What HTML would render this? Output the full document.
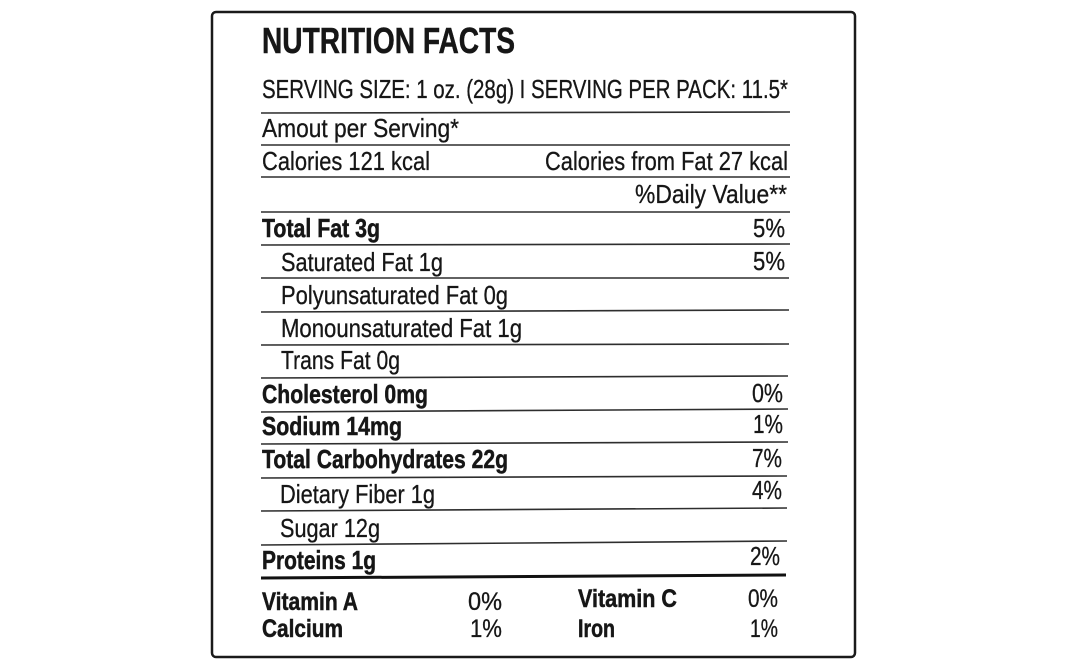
<!DOCTYPE html>
<html>
<head>
<meta charset="utf-8">
<style>
  html, body { margin: 0; padding: 0; background: #fff; }
  svg { display: block; }
  text { font-family: "Liberation Sans", Arial, sans-serif; fill: #161616; stroke: #161616; stroke-width: 0.3; }
  .b { font-weight: bold; stroke: #161616; stroke-width: 0.5; }
</style>
</head>
<body>
<svg width="1068" height="671" viewBox="0 0 1068 671" xmlns="http://www.w3.org/2000/svg">
  <rect x="0" y="0" width="1068" height="671" fill="#fff"/>
  <!-- outer box -->
  <rect x="212" y="12" width="643" height="645" rx="4" ry="4" fill="none" stroke="#1a1a1a" stroke-width="2.5"/>

  <!-- rules -->
  <g stroke="#2e2e2e" stroke-width="1.6">
    <line x1="261" y1="113" x2="790" y2="112"/>
    <line x1="261" y1="145" x2="790" y2="145"/>
    <line x1="261" y1="177" x2="790" y2="177"/>
    <line x1="261" y1="212" x2="790" y2="212"/>
    <line x1="261" y1="245" x2="790" y2="244"/>
    <line x1="261" y1="278" x2="789" y2="278"/>
    <line x1="261" y1="312" x2="789" y2="310"/>
    <line x1="261" y1="345" x2="789" y2="344"/>
    <line x1="261" y1="378" x2="788" y2="376"/>
    <line x1="261" y1="412" x2="788" y2="409"/>
    <line x1="261" y1="444" x2="788" y2="442"/>
    <line x1="261" y1="478" x2="787" y2="476"/>
    <line x1="261" y1="511" x2="787" y2="508"/>
    <line x1="261" y1="545" x2="787" y2="541"/>
  </g>
  <line x1="261" y1="578" x2="786" y2="575" stroke="#111" stroke-width="3"/>

  <!-- title -->
  <text class="b" x="262" y="53" font-size="36" textLength="253" lengthAdjust="spacingAndGlyphs">NUTRITION FACTS</text>
  <text x="262" y="98" font-size="26" textLength="526" lengthAdjust="spacingAndGlyphs">SERVING SIZE: 1 oz. (28g) I SERVING PER PACK: 11.5*</text>
  <text x="262" y="137" font-size="26" textLength="197" lengthAdjust="spacingAndGlyphs">Amout per Serving*</text>
  <text x="262" y="170" font-size="26" textLength="168" lengthAdjust="spacingAndGlyphs">Calories 121 kcal</text>
  <text x="545" y="170" font-size="26" textLength="243" lengthAdjust="spacingAndGlyphs">Calories from Fat 27 kcal</text>
  <text x="635" y="203" font-size="26" textLength="152" lengthAdjust="spacingAndGlyphs">%Daily Value**</text>

  <!-- nutrients -->
  <text class="b" x="262" y="237" font-size="26" textLength="118" lengthAdjust="spacingAndGlyphs">Total Fat 3g</text>
  <text x="753" y="237" font-size="26" textLength="32" lengthAdjust="spacingAndGlyphs">5%</text>

  <text x="281" y="271" font-size="26" textLength="162" lengthAdjust="spacingAndGlyphs">Saturated Fat 1g</text>
  <text x="753" y="270" font-size="26" textLength="32" lengthAdjust="spacingAndGlyphs">5%</text>

  <text x="281" y="304" font-size="26" textLength="227" lengthAdjust="spacingAndGlyphs">Polyunsaturated Fat 0g</text>
  <text x="281" y="337" font-size="26" textLength="241" lengthAdjust="spacingAndGlyphs">Monounsaturated Fat 1g</text>
  <text x="281" y="369" font-size="26" textLength="119" lengthAdjust="spacingAndGlyphs">Trans Fat 0g</text>

  <text class="b" x="262" y="403" font-size="26" textLength="166" lengthAdjust="spacingAndGlyphs">Cholesterol 0mg</text>
  <text x="752" y="402" font-size="26" textLength="31" lengthAdjust="spacingAndGlyphs">0%</text>

  <text class="b" x="262" y="435" font-size="26" textLength="140" lengthAdjust="spacingAndGlyphs">Sodium 14mg</text>
  <text x="753" y="433" font-size="26" textLength="30" lengthAdjust="spacingAndGlyphs">1%</text>

  <text class="b" x="262" y="468" font-size="26" textLength="246" lengthAdjust="spacingAndGlyphs">Total Carbohydrates 22g</text>
  <text x="752" y="467" font-size="26" textLength="30" lengthAdjust="spacingAndGlyphs">7%</text>

  <text x="280" y="503" font-size="26" textLength="155" lengthAdjust="spacingAndGlyphs">Dietary Fiber 1g</text>
  <text x="752" y="499" font-size="26" textLength="30" lengthAdjust="spacingAndGlyphs">4%</text>

  <text x="280" y="537" font-size="26" textLength="100" lengthAdjust="spacingAndGlyphs">Sugar 12g</text>

  <text class="b" x="262" y="569" font-size="26" textLength="114" lengthAdjust="spacingAndGlyphs">Proteins 1g</text>
  <text x="750" y="565" font-size="26" textLength="30" lengthAdjust="spacingAndGlyphs">2%</text>

  <!-- vitamins -->
  <text class="b" x="262" y="610" font-size="25" textLength="96" lengthAdjust="spacingAndGlyphs">Vitamin A</text>
  <text x="468" y="610" font-size="25" textLength="34" lengthAdjust="spacingAndGlyphs">0%</text>
  <text class="b" x="262" y="637" font-size="25" textLength="81" lengthAdjust="spacingAndGlyphs">Calcium</text>
  <text x="470" y="637" font-size="25" textLength="32" lengthAdjust="spacingAndGlyphs">1%</text>

  <text class="b" x="578" y="607" font-size="25" textLength="99" lengthAdjust="spacingAndGlyphs">Vitamin C</text>
  <text x="748" y="607" font-size="25" textLength="30" lengthAdjust="spacingAndGlyphs">0%</text>
  <text class="b" x="578" y="637" font-size="25" textLength="37" lengthAdjust="spacingAndGlyphs">Iron</text>
  <text x="750" y="637" font-size="25" textLength="28" lengthAdjust="spacingAndGlyphs">1%</text>
</svg>
</body>
</html>
